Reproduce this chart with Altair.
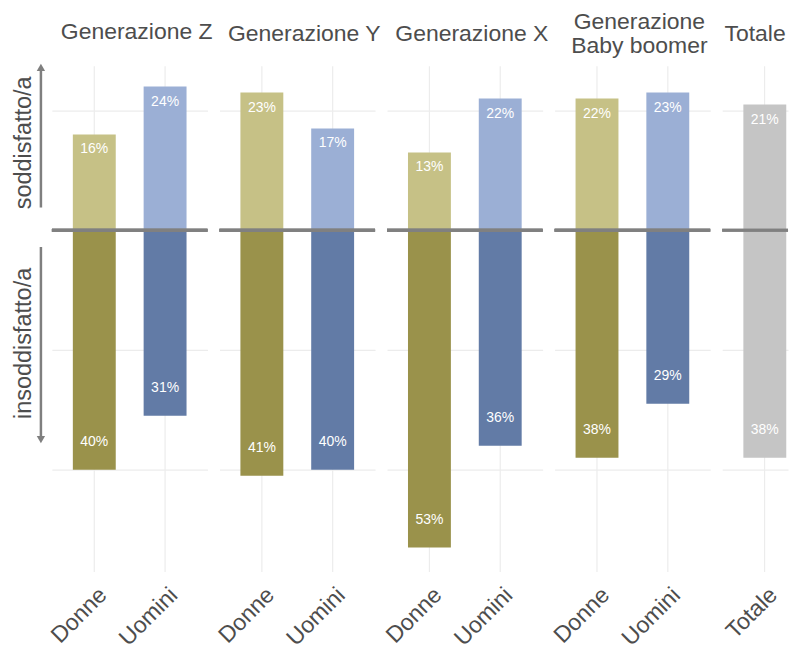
import altair as alt
import pandas as pd

# ---- data ----
panels = ["Generazione Z", "Generazione Y", "Generazione X", "Generazione Baby boomer", "Totale"]
panel_titles = [["Generazione Z"], ["Generazione Y"], ["Generazione X"], ["Generazione", "Baby boomer"], ["Totale"]]
bar_panel = ["Generazione Z", "Generazione Z", "Generazione Y", "Generazione Y",
             "Generazione X", "Generazione X", "Generazione Baby boomer", "Generazione Baby boomer", "Totale"]
bar_group = ["Donne", "Uomini", "Donne", "Uomini", "Donne", "Uomini", "Donne", "Uomini", "Totale"]
soddisfatto = [16, 24, 23, 17, 13, 22, 22, 23, 21]
insoddisfatto = [40, 31, 41, 40, 53, 36, 38, 29, 38]

color_domain = ["Donne_s", "Donne_i", "Uomini_s", "Uomini_i", "Totale_s", "Totale_i"]
color_range = ["#c6c186", "#9a924b", "#9bafd5", "#627ba6", "#c5c5c5", "#c5c5c5"]

arrow_start = [3.8, -2.8]
arrow_end = [27.0, -35.0]
arrow_tip = [27.2, -35.0]
arrow_shape = ["triangle-up", "triangle-down"]
arrow_text = ["soddisfatto/a", "insoddisfatto/a"]
arrow_text_y = [14.6, -18.9]

Y_DOMAIN = [-57, 27.5]
FONT = "Liberation Sans"
TXT = "#4d4d4d"

rows = []
for p, g, s, i in zip(bar_panel, bar_group, soddisfatto, insoddisfatto):
    rows.append(dict(panel=p, group=g, value=s, key=g + "_s", label=f"{s}%"))
    rows.append(dict(panel=p, group=g, value=-i, key=g + "_i", label=f"{i}%"))
df = pd.DataFrame(rows)

arrows_df = pd.DataFrame({"y0": arrow_start, "y1": arrow_end, "tip": arrow_tip,
                          "shape": arrow_shape, "txt": arrow_text, "ty": arrow_text_y})


def panel_chart(idx, p):
    d = df[df.panel == p]
    if p == "Totale":
        xscale = alt.Scale(paddingInner=0.3485, paddingOuter=0.17425, align=0.924)
        width = 66
    else:
        xscale = alt.Scale(paddingInner=0.394, paddingOuter=0.296)
        width = 156
    x = alt.X("group:N", scale=xscale, sort=None,
              axis=alt.Axis(title=None, labelAngle=-45, labelFontSize=23, labelColor=TXT,
                            labelFont=FONT, grid=True, gridColor="#ececec", gridWidth=1.2,
                            domain=False, ticks=False, labelPadding=12, labelOffset=1))
    y = alt.Y("value:Q", scale=alt.Scale(domain=Y_DOMAIN, nice=False, zero=False),
              axis=alt.Axis(title=None, labels=False, ticks=False, domain=False,
                            values=[-40, -20, 0, 20], grid=True, gridColor="#ececec", gridWidth=1.2))
    base = alt.Chart(d)
    bars = base.mark_bar().encode(
        x=x, y=y,
        color=alt.Color("key:N", scale=alt.Scale(domain=color_domain, range=color_range), legend=None),
    )
    pos = base.transform_filter("datum.value > 0").mark_text(
        color="white", fontSize=14, font=FONT, dy=15, baseline="middle"
    ).encode(x=alt.X("group:N", sort=None), y="value:Q", text="label:N")
    neg = base.transform_filter("datum.value < 0").mark_text(
        color="white", fontSize=14, font=FONT, dy=-28, baseline="middle"
    ).encode(x=alt.X("group:N", sort=None), y="value:Q", text="label:N")
    zero = base.mark_rule(color="#808080", strokeWidth=3).encode(y=alt.datum(0))
    layers = [bars, pos, neg, zero]
    if idx == 0:
        ab = alt.Chart(arrows_df)
        layers.append(ab.mark_rule(color="#7f7f7f", strokeWidth=2.5).encode(
            x=alt.value(-11), y="y0:Q", y2="y1:Q"))
        layers.append(ab.mark_point(color="#7f7f7f", filled=True, opacity=1, size=70).encode(
            x=alt.value(-11), y="tip:Q",
            shape=alt.Shape("shape:N", scale=None)))
        layers.append(ab.mark_text(color=TXT, fontSize=23.5, font=FONT, angle=270,
                                   baseline="middle", align="center").encode(
            x=alt.value(-28), y="ty:Q", text="txt:N"))
    single = len(panel_titles[idx]) == 1
    title = alt.TitleParams(
        text=panel_titles[idx], fontSize=23, font=FONT, color=TXT, fontWeight="normal",
        anchor="middle", dx=7 if p != "Totale" else 0, baseline="bottom", lineHeight=24,
        offset=22 if single else 10, dy=25,
    )
    return alt.layer(*layers).properties(width=width, height=507, title=title)


chart = alt.hconcat(*[panel_chart(i, p) for i, p in enumerate(panels)], spacing=12,
                    bounds="flush").properties(
    padding={"left": 4, "right": 0, "top": 2, "bottom": 0}
).configure(font=FONT, background="white").configure_view(strokeWidth=0, stroke=None)

chart.save("out.html", embed_options={"renderer": "svg", "actions": False})
